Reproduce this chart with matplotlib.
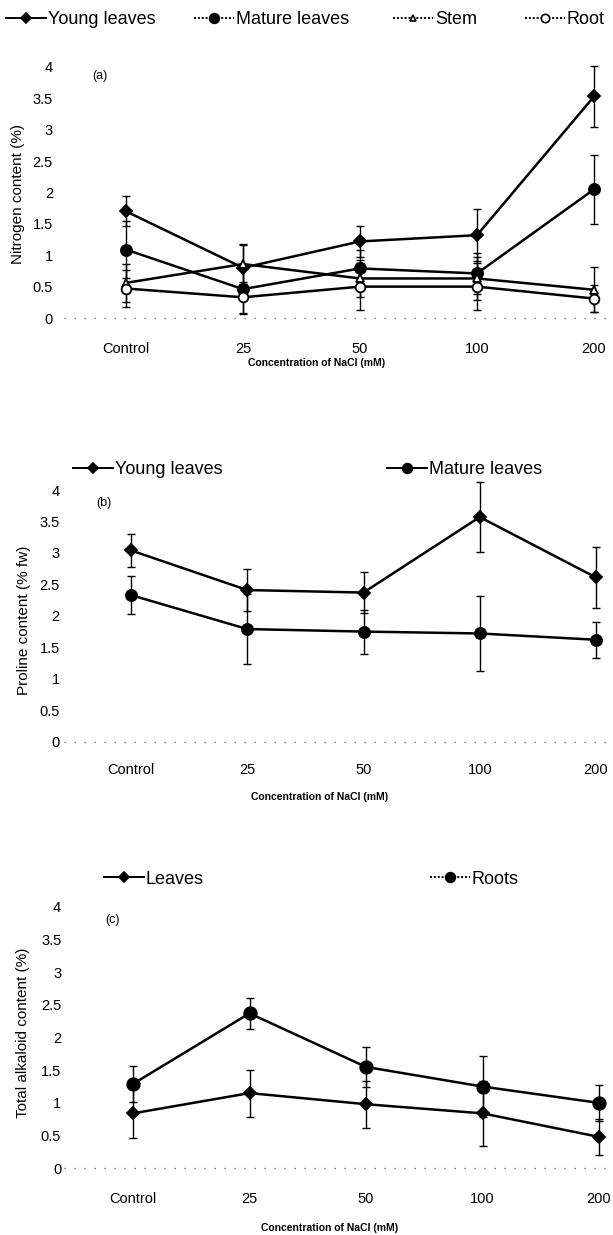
import matplotlib
matplotlib.use("Agg")
import matplotlib.pyplot as plt
from matplotlib.lines import Line2D

plt.rcParams['font.family'] = ['Liberation Sans', 'DejaVu Sans']

# ---------------- data ----------------
categories = ["Control", "25", "50", "100", "200"]
ytick_labels = ["0", "0.5", "1", "1.5", "2", "2.5", "3", "3.5", "4"]
ytick_values = [0, 0.5, 1, 1.5, 2, 2.5, 3, 3.5, 4]

# (a) Nitrogen content (%)
n_young = [1.70, 0.80, 1.22, 1.32, 3.53]
n_young_err = [0.24, 0.37, 0.25, 0.41, 0.49]
n_mature = [1.09, 0.46, 0.79, 0.71, 2.05]
n_mature_err = [0.45, 0.40, 0.30, 0.32, 0.55]
n_stem = [0.56, 0.86, 0.63, 0.63, 0.45]
n_stem_err = [0.30, 0.32, 0.30, 0.35, 0.36]
n_root = [0.47, 0.33, 0.50, 0.50, 0.31]
n_root_err = [0.30, 0.25, 0.37, 0.37, 0.21]

# (b) Proline content (% fw)
p_young = [3.04, 2.41, 2.37, 3.57, 2.61]
p_young_err = [0.26, 0.33, 0.32, 0.56, 0.49]
p_mature = [2.33, 1.79, 1.75, 1.72, 1.62]
p_mature_err = [0.30, 0.55, 0.35, 0.60, 0.29]

# (c) Total alkaloid content (%)
a_leaves = [0.84, 1.15, 0.98, 0.84, 0.48]
a_leaves_err = [0.38, 0.36, 0.36, 0.50, 0.28]
a_roots = [1.29, 2.37, 1.55, 1.25, 1.00]
a_roots_err = [0.27, 0.24, 0.30, 0.46, 0.27]

xlabel_text = "Concentration of NaCl (mM)"

# ---------------- layout ----------------
W, H = 613, 1235
fig = plt.figure(figsize=(W / 100, H / 100), dpi=100)

def fx(px):
    return px / W

def fy(py):
    return 1 - py / H

def make_axes(x0, x4, y0, y4, L=64, R=611, ylo=-0.1, yhi=4.15):
    ux = (x4 - x0) / 4.0
    uy = (y0 - y4) / 4.0
    bottom_px = y0 - ylo * uy
    top_px = y0 - yhi * uy
    ax = fig.add_axes([fx(L), fy(bottom_px), (R - L) / W, (bottom_px - top_px) / H])
    ax.set_xlim((L - x0) / ux, 4 + (R - x4) / ux)
    ax.set_ylim(ylo, yhi)
    for s in ax.spines.values():
        s.set_visible(False)
    ax.set_xticks(range(len(categories)))
    ax.set_xticklabels(categories)
    ax.set_yticks(ytick_values)
    ax.set_yticklabels(ytick_labels)
    ax.tick_params(length=0, labelsize=10.5)
    ax.axhline(0, color='0.35', lw=0.9, ls=(0, (1, 7)), zorder=0)
    ax.patch.set_alpha(0)
    return ax

def series(ax, xs, ys, err, marker, ms, mfc):
    ax.errorbar(xs, ys, yerr=err, fmt='none', ecolor='black', elinewidth=1.0,
                capsize=3, capthick=1.0, zorder=2)
    ax.plot(xs, ys, color='black', lw=1.8, marker=marker, ms=ms, mfc=mfc,
            mec='black', mew=1.3, zorder=3)

def legend_entry(x_px, y_px, label, marker, ms, mfc, ls, fs=13):
    h = Line2D([], [], color='black', lw=1.4, ls=ls, marker=marker, ms=ms,
               mfc=mfc, mec='black', mew=1.2)
    fig.legend(handles=[h], labels=[label], loc='center left',
               bbox_to_anchor=(fx(x_px), fy(y_px)), frameon=False,
               borderpad=0, borderaxespad=0, handlelength=2.2,
               handletextpad=0.12, fontsize=fs)

xs = list(range(len(categories)))

# ---------- panel (a) ----------
axa = make_axes(126, 594, 318, 67)
series(axa, xs, n_young, n_young_err, 'D', 6, 'black')
series(axa, xs, n_mature, n_mature_err, 'o', 8, 'black')
series(axa, xs, n_stem, n_stem_err, '^', 6, 'white')
series(axa, xs, n_root, n_root_err, 'o', 7, 'white')
axa.tick_params(axis='x', pad=13)
axa.tick_params(axis='y', pad=8)
axa.set_ylabel("Nitrogen content (%)", fontsize=11)
axa.set_xlabel(xlabel_text, fontsize=7.5, fontweight='bold')
fig.text(fx(100), fy(76), "(a)", fontsize=9, ha='center', va='center')

legend_entry(6, 20, "Young leaves", 'D', 5, 'black', '-')
legend_entry(194, 20, "Mature leaves", 'o', 7, 'black', (0, (1, 1)))
legend_entry(393, 20, "Stem", '^', 5, 'white', (0, (1, 1)))
legend_entry(525, 20, "Root", 'o', 6, 'white', (0, (1, 1)))

# ---------- panel (b) ----------
axb = make_axes(131, 596, 741.7, 490)
series(axb, xs, p_young, p_young_err, 'D', 6, 'black')
series(axb, xs, p_mature, p_mature_err, 'o', 8, 'black')
axb.tick_params(axis='x', pad=11)
axb.tick_params(axis='y', pad=3)
axb.set_ylabel("Proline content (% fw)", fontsize=11)
axb.set_xlabel(xlabel_text, fontsize=7.5, fontweight='bold')
fig.text(fx(104), fy(503), "(b)", fontsize=9, ha='center', va='center')

legend_entry(73, 470, "Young leaves", 'D', 5, 'black', '-')
legend_entry(387, 470, "Mature leaves", 'o', 7, 'black', '-')

# ---------- panel (c) ----------
axc = make_axes(133, 599, 1168.3, 906.7)
series(axc, xs, a_leaves, a_leaves_err, 'D', 6, 'black')
series(axc, xs, a_roots, a_roots_err, 'o', 9, 'black')
axc.tick_params(axis='x', pad=12)
axc.tick_params(axis='y', pad=2)
axc.set_ylabel("Total alkaloid content (%)", fontsize=11)
axc.set_xlabel(xlabel_text, fontsize=7.5, fontweight='bold')
fig.text(fx(113), fy(920), "(c)", fontsize=9, ha='center', va='center')

legend_entry(104, 879, "Leaves", 'D', 5, 'black', '-')
legend_entry(430, 879, "Roots", 'o', 7, 'black', (0, (1, 1)))

# position axis labels (axes fraction coordinates derived from pixel targets)
def place_labels(ax, ylab_x_px, ylab_y_px, xlab_x_px, xlab_y_px):
    inv = ax.transAxes.inverted()
    yx, yy = inv.transform((ylab_x_px, H - ylab_y_px))
    ax.yaxis.set_label_coords(yx, yy)
    xx, xy = inv.transform((xlab_x_px, H - xlab_y_px))
    ax.xaxis.set_label_coords(xx, xy)
    ax.xaxis.label.set_va('center')
    ax.yaxis.label.set_va('center')

place_labels(axa, 18, 194, 317, 363)
place_labels(axb, 24, 620, 320, 797)
place_labels(axc, 23, 1033, 330, 1228)

fig.savefig("out.png", dpi=100)
